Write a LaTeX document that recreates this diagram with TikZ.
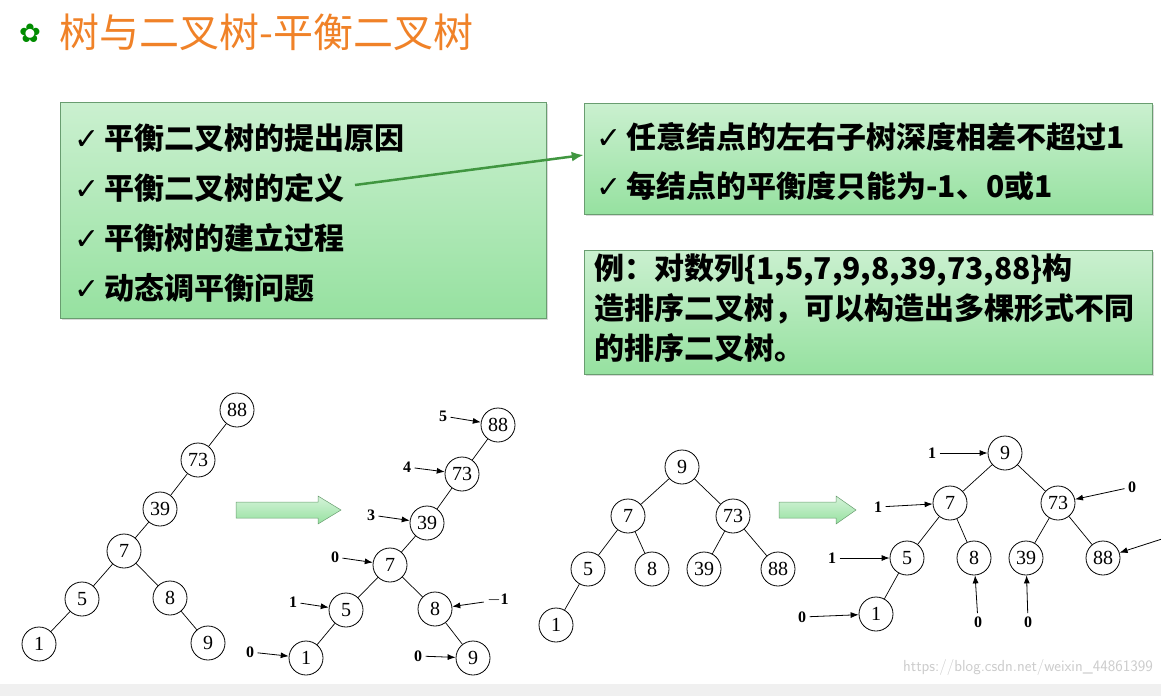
\documentclass[tikz,border=0pt]{standalone}
\usepackage{fontspec}
\setmainfont{Liberation Serif}
\newfontfamily\cjk{Noto Sans CJK SC}
\newcommand\cjkb{\cjk\bfseries}
\newfontfamily\djv{DejaVu Sans}
\usetikzlibrary{arrows.meta,shadows}
\definecolor{boxg}{RGB}{150,225,160}
\definecolor{ttl}{RGB}{240,130,40}
\newcommand\ck{{\djv\fontsize{30}{30}\selectfont ✓}\,}
\tikzset{
 nd/.style={circle,draw,line width=0.8pt,minimum size=34pt,inner sep=0pt,font=\fontsize{20}{20}\selectfont},
 ed/.style={line width=0.7pt},
 lab/.style={font=\fontsize{16}{16}\selectfont\bfseries},
 pt/.style={-{Latex[length=8pt,width=6pt]},line width=0.8pt},
 gbox/.style={draw=boxg!70!black,line width=0.6pt,top color=boxg!50!white,bottom color=boxg,drop shadow={opacity=0.3}},
 item/.style={anchor=west,font=\fontsize{30}{30}\selectfont\cjkb,inner sep=0pt},
 bigar/.style={draw=boxg!70!black,top color=boxg!40!white,bottom color=boxg,line width=0.5pt}
}
\begin{document}
\begin{tikzpicture}[x=1pt,y=-1pt]
\useasboundingbox (0,0) rectangle (1161,696);
\fill[gray!12] (0,684) rectangle (1161,696);
\node[anchor=west,text=ttl,font=\fontsize{40}{40}\selectfont\cjk] (title) at (56,32) {树与二叉树-平衡二叉树};
\node[text=green!55!black,font=\fontsize{26}{26}\selectfont\djv] (orn) at (30,33) {✿};
% boxes
\node[gbox,minimum width=486pt,minimum height=216pt] (b1) at (303,210) {};
\node[gbox,minimum width=568pt,minimum height=111pt] (b2) at (868,158.5) {};
\node[gbox,minimum width=568pt,minimum height=124pt] (b3) at (868,312) {};
\node[item] (i1) at (74,138) {\ck 平衡二叉树的提出原因};
\node[item] (i2) at (74,188) {\ck 平衡二叉树的定义};
\node[item] (i3) at (74,238) {\ck 平衡树的建立过程};
\node[item] (i4) at (74,288) {\ck 动态调平衡问题};
\node[item] (j1) at (596,137) {\ck 任意结点的左右子树深度相差不超过1};
\node[item] (j2) at (596,186) {\ck 每结点的平衡度只能为-1、0或1};
\node[anchor=north west,align=left,font=\fontsize{30}{40}\selectfont\cjkb,inner sep=0pt] (ex) at (594,254) {例：对数列\{1,5,7,9,8,39,73,88\}构\\造排序二叉树，可以构造出多棵形式不同\\的排序二叉树。};
\coordinate (as) at (355,185);
\draw[-{Latex[length=12pt,width=10pt]},line width=2.5pt,draw=green!45!black!75] (as) -- (b2.west|-0,155);
% tree 1
\node[nd] (a88) at (237,410) {88};
\node[nd] (a73) at (198,460) {73};
\node[nd] (a39) at (160,509) {39};
\node[nd] (a7) at (124,551) {7};
\node[nd] (a5) at (82,599) {5};
\node[nd] (a8) at (170,598) {8};
\node[nd] (a1) at (39,644) {1};
\node[nd] (a9) at (208,643) {9};
\draw[ed] (a88)--(a73) (a73)--(a39) (a39)--(a7) (a7)--(a5) (a7)--(a8) (a5)--(a1) (a8)--(a9);
\path[bigar] (236,502) -- (318,502) -- (318,496) -- (341,510) -- (318,524) -- (318,518) -- (236,518) -- cycle;
% tree 2
\node[nd] (b88) at (498,425) {88};
\node[nd] (b73) at (462,474) {73};
\node[nd] (b39) at (427,523) {39};
\node[nd] (b7) at (390,565) {7};
\node[nd] (b5) at (346,610) {5};
\node[nd] (b8) at (435,609) {8};
\node[nd] (b1n) at (306,658) {1};
\node[nd] (b9) at (473,658) {9};
\draw[ed] (b88)--(b73) (b73)--(b39) (b39)--(b7) (b7)--(b5) (b7)--(b8) (b5)--(b1n) (b8)--(b9);
\node[lab] (l1) at (443,416) {5}; \draw[pt] (l1) -- (b88);
\node[lab] (l2) at (407,467) {4}; \draw[pt] (l2) -- (b73);
\node[lab] (l3) at (371,515) {3}; \draw[pt] (l3) -- (b39);
\node[lab] (l4) at (335,557) {0}; \draw[pt] (l4) -- (b7);
\node[lab] (l5) at (293,602) {1}; \draw[pt] (l5) -- (b5);
\node[lab] (l6) at (498,600) {$-$1}; \draw[pt] (l6) -- (b8);
\node[lab] (l7) at (250,652) {0}; \draw[pt] (l7) -- (b1n);
\node[lab] (l8) at (418,656) {0}; \draw[pt] (l8) -- (b9);
% tree 3
\node[nd] (c9) at (682,467) {9};
\node[nd] (c7) at (628,516) {7};
\node[nd] (c73) at (733,516) {73};
\node[nd] (c5) at (588,569) {5};
\node[nd] (c8) at (652,569) {8};
\node[nd] (c39) at (704,569) {39};
\node[nd] (c88) at (778,569) {88};
\node[nd] (c1) at (556,625) {1};
\draw[ed] (c9)--(c7) (c9)--(c73) (c7)--(c5) (c7)--(c8) (c73)--(c39) (c73)--(c88) (c5)--(c1);
\path[bigar] (779,502) -- (836,502) -- (836,496) -- (856,510) -- (836,524) -- (836,518) -- (779,518) -- cycle;
% tree 4
\node[nd] (d9) at (1005,453) {9};
\node[nd] (d7) at (950,503) {7};
\node[nd] (d73) at (1058,503) {73};
\node[nd] (d5) at (907,558) {5};
\node[nd] (d8) at (974,558) {8};
\node[nd] (d39) at (1026,558) {39};
\node[nd] (d88) at (1103,558) {88};
\node[nd] (d1) at (876,614) {1};
\draw[ed] (d9)--(d7) (d9)--(d73) (d7)--(d5) (d7)--(d8) (d73)--(d39) (d73)--(d88) (d5)--(d1);
\node[lab] (m1) at (932,453) {1}; \draw[pt] (m1) -- (d9);
\node[lab] (m2) at (878,507) {1}; \draw[pt] (m2) -- (d7);
\node[lab] (m3) at (832,558) {1}; \draw[pt] (m3) -- (d5);
\node[lab] (m4) at (802,617) {0}; \draw[pt] (m4) -- (d1);
\node[lab] (m5) at (1132,487) {0}; \draw[pt] (m5) -- (d73);
\node[lab] (m6) at (978,622) {0}; \draw[pt] (m6) -- (d8);
\node[lab] (m7) at (1028,622) {0}; \draw[pt] (m7) -- (d39);
\coordinate (m8) at (1165,538); \draw[pt] (m8) -- (d88);
\node[text=gray!40,font=\fontsize{16}{16}\selectfont\sffamily] (wm) at (1028,667) {https://blog.csdn.net/weixin\_44861399};
\end{tikzpicture}
\end{document}
